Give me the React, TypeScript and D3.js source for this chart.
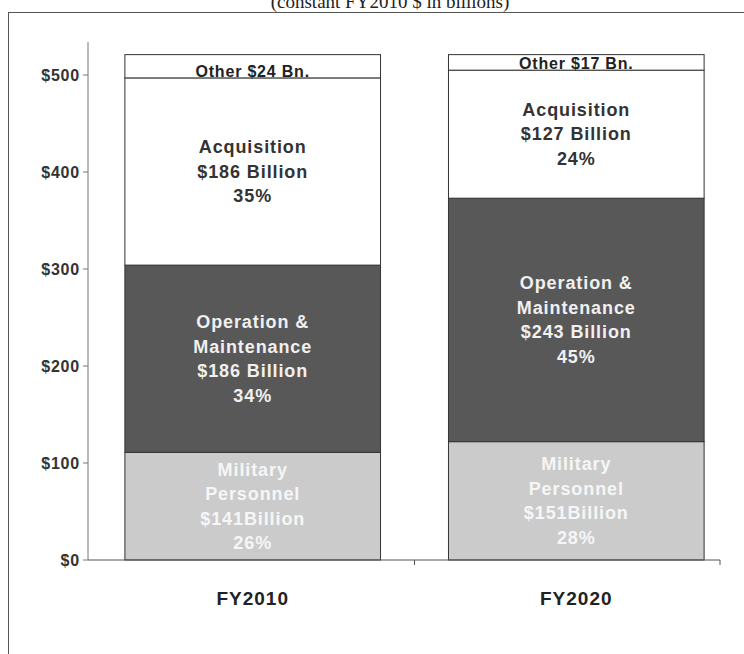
import React from "react";
import * as d3 from "d3";

// drawn segment heights (bottom to top)
const years = ["FY2010", "FY2020"];
const segments = ["Military Personnel", "Operation & Maintenance", "Acquisition", "Other"];
const fy2010 = [111, 193, 193, 24];
const fy2020 = [122, 251, 132, 16];

// text printed inside each segment
const labels2010 = [
  ["Military", "Personnel", "$141Billion", "26%"],
  ["Operation &", "Maintenance", "$186 Billion", "34%"],
  ["Acquisition", "$186 Billion", "35%"],
  ["Other $24 Bn."],
];
const labels2020 = [
  ["Military", "Personnel", "$151Billion", "28%"],
  ["Operation &", "Maintenance", "$243 Billion", "45%"],
  ["Acquisition", "$127 Billion", "24%"],
  ["Other $17 Bn."],
];
const yTicks = [0, 100, 200, 300, 400, 500];

const fills = ["#cbcbcb", "#585858", "#ffffff", "#ffffff"];
const textFill = ["#f6f6f6", "#f0f0f0", "#333", "#222"];

export default function App() {
  const W = 744, H = 654;
  const y = d3.scaleLinear().domain([0, 500]).range([560, 75]);
  const x = d3.scaleBand().domain(years).range([88, 741]).paddingInner(0.21).paddingOuter(0.114);
  const values = [fy2010, fy2020];
  const texts = [labels2010, labels2020];
  const stacks = values.map((v) => {
    let acc = 0;
    return v.map((h, i) => {
      const s = { y0: acc, y1: acc + h, i };
      acc += h;
      return s;
    });
  });
  const font = "'Liberation Sans', Arial, sans-serif";
  const axisX = 88;
  const xEnd = 720;

  return (
    <svg width={W} height={H} style={{ position: "absolute", left: 0, top: 0 }}>
      <rect width={W} height={H} fill="#fff" />
      <text x={390} y={8} textAnchor="middle" fontFamily="'Liberation Serif', 'Times New Roman', serif" fontSize={19} fill="#222">
        (constant FY2010 $ in billions)
      </text>
      <rect x={8.5} y={12.5} width={760} height={700} fill="none" stroke="#555" strokeWidth={1} />

      {/* y axis */}
      <line x1={axisX} x2={axisX} y1={42} y2={y(0)} stroke="#777" />
      {yTicks.map((t) => (
        <g key={t}>
          <line x1={axisX - 5} x2={axisX} y1={y(t)} y2={y(t)} stroke="#777" />
          <text x={axisX - 8} y={y(t)} dy="0.35em" textAnchor="end" fontFamily={font} fontWeight="bold" fontSize={16} letterSpacing={0.8} fill="#333">
            {"$" + t}
          </text>
        </g>
      ))}

      {/* bars */}
      {years.map((yr, b) => (
        <g key={yr}>
          {stacks[b].map((s) => {
            const top = y(s.y1), bot = y(s.y0);
            const lines = texts[b][s.i];
            const cx = (x(yr) as number) + x.bandwidth() / 2;
            const lh = 24.5;
            const isOther = s.i === 3;
            const mid = (top + bot) / 2;
            return (
              <g key={segments[s.i]}>
                <rect x={x(yr)} y={top} width={x.bandwidth()} height={bot - top} fill={fills[s.i]} stroke="#333" strokeWidth={1} />
                {lines.map((l, k) => (
                  <text
                    key={k}
                    x={cx}
                    y={isOther ? bot - 1 : mid + (k - (lines.length - 1) / 2) * lh}
                    dy={isOther ? 0 : "0.35em"}
                    textAnchor="middle"
                    fontFamily={font}
                    fontWeight="bold"
                    fontSize={isOther ? 16 : 18}
                    letterSpacing={isOther ? 0.8 : 0.9}
                    fill={textFill[s.i]}
                  >
                    {l}
                  </text>
                ))}
              </g>
            );
          })}
          <text x={(x(yr) as number) + x.bandwidth() / 2} y={605} textAnchor="middle" fontFamily={font} fontWeight="bold" fontSize={19} letterSpacing={1} fill="#222">
            {yr}
          </text>
        </g>
      ))}

      {/* x axis */}
      <line x1={axisX} x2={xEnd} y1={y(0)} y2={y(0)} stroke="#555" />
      {[1, 2].map((k) => {
        const xx = k === 1 ? (x(years[1]) as number) - (x.step() - x.bandwidth()) / 2 : xEnd;
        return <line key={k} x1={xx} x2={xx} y1={y(0)} y2={y(0) + 5} stroke="#555" />;
      })}
    </svg>
  );
}
